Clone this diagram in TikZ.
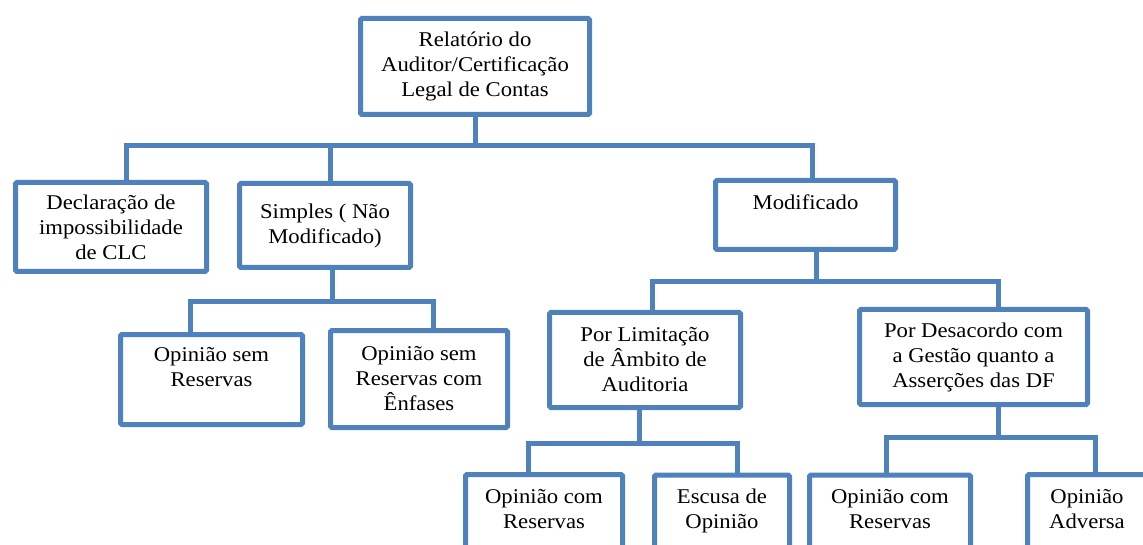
\documentclass[tikz,border=0pt]{standalone}
\usepackage{fontspec}
\setmainfont{Liberation Serif}[FakeStretch=1.08]
\definecolor{boxblue}{HTML}{4F81BD}

\begin{document}
\begin{tikzpicture}[x=1pt,y=-1pt]
            \path[use as bounding box] (0,0) rectangle (1143,545);
            \clip (0,0) rectangle (1143,545);

            \begin{scope}[every node/.style={draw=boxblue, line width=5pt, rounded corners=1.5pt, fill=white, align=center, inner sep=0pt, font=\fontsize{21}{25}\selectfont}]
                \node[minimum width=229, minimum height=96] (root) at (475,66.5) {Relatório do\\ Auditor/Certificação\\ Legal de Contas};
                \node[minimum width=191, minimum height=89] (decl) at (111,227) {Declaração de\\ impossibilidade\\ de CLC};
                \node[minimum width=171, minimum height=84] (simp) at (325,225.5) {Simples ( Não\\ Modificado)};
                \node[minimum width=180, minimum height=69] (modif) at (805.5,215) {Modificado\\ \mbox{}};
                \node[minimum width=182, minimum height=90] (osr) at (211.5,379.5) {Opinião sem\\ Reservas\\ \mbox{}};
                \node[minimum width=177, minimum height=97] (osrc) at (419,379) {Opinião sem\\ Reservas com\\ Ênfases};
                \node[minimum width=191, minimum height=95] (lim) at (645,360) {Por Limitação\\ de Âmbito de\\ Auditoria};
                \node[minimum width=228, minimum height=95] (desac) at (973.5,357) {Por Desacordo com\\ a Gestão quanto a\\ Asserções das DF};
                \node[minimum width=157, minimum height=93] (ocr1) at (544,521) {Opinião com\\ Reservas\\ \mbox{}};
                \node[minimum width=135, minimum height=93] (escusa) at (722,521.5) {Escusa de\\ Opinião\\ \mbox{}};
                \node[minimum width=161, minimum height=93] (ocr2) at (890,521.5) {Opinião com\\ Reservas\\ \mbox{}};
                \node[minimum width=119, minimum height=93] (adv) at (1087,521) {Opinião\\ Adversa\\ \mbox{}};
            \end{scope}

            \coordinate (j1) at (475,146);
            \coordinate (j2) at (332,302);
            \coordinate (j3) at (816,282);
            \coordinate (j4) at (639,443);
            \coordinate (j5) at (998,437);

            \begin{scope}[every path/.style={draw=boxblue, line width=5pt}]
                \path (root) -- (j1);
                \path ([xshift=15pt]decl.north) |- (j1) -| ([xshift=6.5pt]modif.north);
                \path ([xshift=5pt]simp.north) -- ([xshift=5pt]simp.north |- j1);
                \path ([xshift=7pt]simp.south) -- (j2);
                \path ([xshift=-21.5pt]osr.north) |- (j2) -| ([xshift=14pt]osrc.north);
                \path ([xshift=10.5pt]modif.south) -- (j3);
                \path ([xshift=7pt]lim.north) |- (j3) -| ([xshift=24.5pt]desac.north);
                \path ([xshift=-6pt]lim.south) -- (j4);
                \path ([xshift=-16pt]ocr1.north) |- (j4) -| ([xshift=15pt]escusa.north);
                \path ([xshift=24.5pt]desac.south) -- (j5);
                \path ([xshift=-4pt]ocr2.north) |- (j5) -| ([xshift=8pt]adv.north);
            \end{scope}
        \end{tikzpicture}
\end{document}
